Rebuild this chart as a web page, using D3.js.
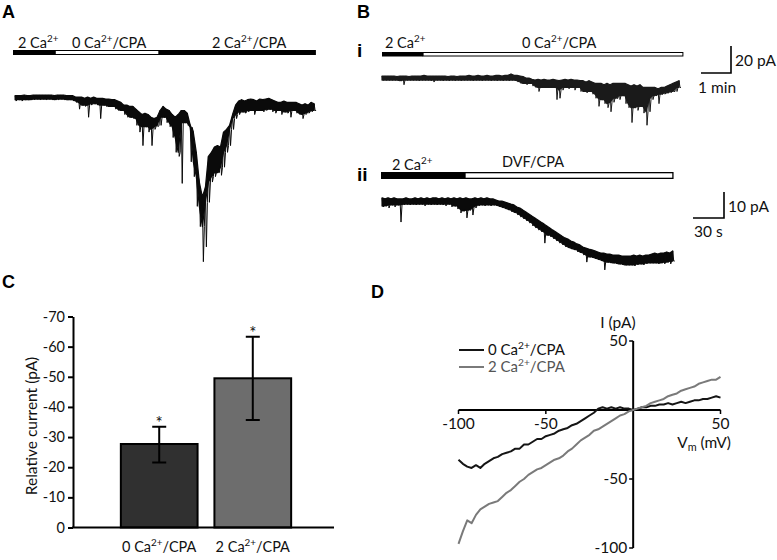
<!DOCTYPE html>
<html><head><meta charset="utf-8">
<script src="https://cdn.jsdelivr.net/npm/d3@7"></script>
<style>body{margin:0;background:#fff}svg{display:block}</style>
</head><body>
<svg id="fig" width="777" height="560"></svg>
<script>
// ================= DATA =================
// Panel A: solution protocol (min) and current trace envelope (pA), one sample every 0.1 min from t = 0.07 min
const protocolA = [
  {label: "2 Ca^{2+}", start: 0, end: 1.4, kind: "on"},
  {label: "0 Ca^{2+}/CPA", start: 1.4, end: 4.83, kind: "off"},
  {label: "2 Ca^{2+}/CPA", start: 4.83, end: 10.03, kind: "on"}
];
const traceA_t0 = 0.07, traceA_dt = 0.1;
const traceA_hi = [
  1,1,1,1.5,1,1,1.5,1.5,1.5,1.5,
  1.5,1.5,1.5,1,1.5,1.5,1.5,1,1,1,
  0,0,0,-1,0,-1,0,-1,-1,-1,
  -1.5,-1.5,-2,-2,-3,-4,-6,-6,-7,-7,
  -9,-11,-13,-12,-13,-15,-16,-15,-10,-7,
  -9,-10,-13,-15,-13,-10,-10,-12,-21,-26,
  -41,-63,-74,-67,-44,-41,-37,-36,-37,-26,
  -24,-21,-13,-6,-3,-2,-3,-2,-1.5,-2,
  -3,-1.5,-2,-1.5,-1,-2,-3,-4,-4,-3,
  -4,-4,-4,-4,-5,-6,-5,-6,-4,-5];
const traceA_lo = [
  -3,-2,-3,-2,-2,-2,-2,-1.5,-2,-1.5,
  -2,-1.5,-2,-2,-2,-1.5,-2,-2,-2,-3,
  -4,-9,-6,-7,-15,-6,-5,-6,-16,-6,
  -7,-7,-7,-9,-10,-10,-13,-15,-15,-16,
  -21,-26,-36,-22,-26,-36,-24,-22,-21,-15,
  -19,-22,-30,-41,-44,-64,-19,-21,-48,-59,
  -81,-96,-122,-111,-78,-63,-59,-56,-58,-52,
  -41,-36,-24,-16,-13,-11,-12,-11,-10,-13,
  -10,-10,-11,-10,-9,-11,-12,-10,-13,-11,
  -12,-15,-10,-12,-13,-16,-13,-12,-11,-10];

// Panel B(i): protocol (min) and trace (pA), sample every 0.1 min from t = 0
const protocolBi = [
  {label: "2 Ca^{2+}", start: 0, end: 1.37, kind: "on"},
  {label: "0 Ca^{2+}/CPA", start: 1.37, end: 10.03, kind: "off"}
];
const traceBi_t0 = 0, traceBi_dt = 0.1;
const traceBi_hi = [
  1.5,1.5,1.5,1.5,1.5,1,1.5,1.5,1.5,1,
  1.5,1.5,1.5,1.5,2,1.5,1.5,1.5,1.5,1.5,
  1.5,1.5,1,1.5,1.5,1,1.5,1.5,1.5,2,
  1.5,1.5,2,1.5,1.5,2,1.5,1.5,2,2,
  1.5,2,2,3,2,2,1.5,1,0,0,
  -1,-1.5,-1,-1.5,-1,-1.5,-1.5,-1,-1.5,-2,
  -1.5,-1,-1.5,-1,-1.5,-1.5,-2,-2,-3,-2,
  -3,-4,-4,-4,-5,-4,-5,-4,-4,-4,
  -4,-4,-5,-6,-5,-6,-5,-7,-7,-7,
  -7,-7,-8,-7,-7,-6,-5,-4,-3,-2];
const traceBi_lo = [
  -1.5,-1.5,-1.5,-1.5,-1.5,-2,-2,-5,-1.5,-1.5,
  -1.5,-1.5,-2,-1.5,-1.5,-1.5,-2,-3,-1.5,-1.5,
  -2,-1.5,-2,-1.5,-2,-1.5,-2,-1.5,-1.5,-1.5,
  -2,-1.5,-1.5,-2,-1.5,-1.5,-2,-1.5,-2,-1.5,
  -2,-1.5,-2,-1.5,-2,-3,-4,-4,-5,-4,
  -6,-7,-10,-7,-7,-7,-7,-7,-16,-15,
  -9,-7,-8,-7,-9,-7,-10,-10,-11,-10,
  -12,-15,-21,-16,-19,-22,-25,-18,-15,-16,
  -13,-19,-22,-33,-22,-24,-21,-26,-35,-25,
  -16,-13,-19,-12,-12,-11,-11,-10,-10,-7];

// Panel B(ii): protocol (s) and trace (pA), sample every 2.9 s from t = 1 s
const protocolBii = [
  {label: "2 Ca^{2+}", start: 0, end: 81.3, kind: "on"},
  {label: "DVF/CPA", start: 81.3, end: 282.5, kind: "off"}
];
const traceBii_t0 = 1, traceBii_dt = 2.9;
const traceBii_hi = [
  1.2,0.8,1.2,0.8,1.2,0.8,0.8,0.8,1.2,0.8,
  0.8,1.2,0.8,1.2,0.8,1.2,0.8,1.2,1.2,0.8,
  1.2,0.8,1.2,0.8,1.2,0.8,1.2,0.8,1.2,0.8,
  0.8,1.2,0.8,1.2,0.8,1.2,0.8,0.8,0.4,0,
  0,-0.4,-0.8,-1.2,-1.5,-2.3,-2.7,-3.5,-4.2,-5,
  -5.8,-6.5,-7.3,-8.1,-8.8,-9.6,-10.4,-11.2,-11.9,-12.7,
  -13.5,-14.2,-14.6,-15.4,-15.8,-16.5,-16.9,-17.7,-18.1,-18.5,
  -18.8,-19.2,-19.6,-20,-20,-20.4,-20.4,-20.8,-20.8,-20.8,
  -21.2,-21.2,-21.2,-21.2,-20.8,-21.2,-20.8,-21.2,-20.8,-20.8,
  -20.4,-20,-20.4,-20,-20,-19.6,-20,-19.2];
const traceBii_lo = [
  -2.3,-1.9,-2.7,-1.5,-2.3,-1.5,-8.1,-1.5,-1.2,-1.5,
  -1.2,-1.5,-1.2,-1.2,-1.9,-1.2,-1.5,-1.2,-1.5,-1.2,
  -1.5,-1.9,-1.2,-2.3,-1.9,-3.1,-4.6,-3.8,-6.5,-3.5,
  -5.4,-2.7,-1.9,-1.5,-1.9,-1.5,-1.9,-1.5,-1.9,-2.3,
  -2.7,-3.1,-3.5,-4.2,-4.6,-5.4,-6.2,-6.9,-7.7,-8.5,
  -9.6,-10.4,-11.2,-11.9,-16.2,-13.1,-13.8,-14.6,-15.4,-16.2,
  -16.9,-17.7,-18.1,-18.5,-18.8,-19.6,-20,-20.8,-23.5,-21.5,
  -21.9,-22.3,-22.7,-23.1,-26.5,-23.5,-23.8,-23.8,-24.2,-24.2,
  -24.6,-24.6,-24.6,-24.6,-25,-24.6,-24.2,-24.6,-24.2,-23.8,
  -23.8,-23.8,-24.2,-23.8,-24.2,-23.5,-24.2,-23.1];

// Scale bars
const scaleBi = {pA: 20, time: 1, pALabel: "20 pA", timeLabel: "1 min"};
const scaleBii = {pA: 10, time: 30, pALabel: "10 pA", timeLabel: "30 s"};

// Panel C: bar chart
const catsC = ["0 Ca^{2+}/CPA", "2 Ca^{2+}/CPA"];
const meanC = [-27.7, -49.5];
const errLoC = [-21.6, -35.7];
const errHiC = [-33.4, -63.3];
const yTicksC = [0, -10, -20, -30, -40, -50, -60, -70];

// Panel D: I-V relationships
const vmD = [-100,-97.5,-95,-92.5,-90,-87.5,-85,-82.5,-80,-77.5,-75,-72.5,-70,-67.5,-65,-62.5,-60,-57.5,-55,-52.5,
  -50,-47.5,-45,-42.5,-40,-37.5,-35,-32.5,-30,-27.5,-25,-22.5,-20,-17.5,-15,-12.5,-10,-7.5,-5,-2.5,
  0,2.5,5,7.5,10,12.5,15,17.5,20,22.5,25,27.5,30,32.5,35,37.5,40,42.5,45,47.5,50];
const iv0Ca = [-36,-39,-41,-42,-40,-42,-39,-37,-35,-34,-32,-31,-30,-28,-28,-25,-25,-23,-21,-21,
  -19,-18,-17,-15,-14,-13,-11,-10,-8,-6,-4,-2,1,2,1,2,1,2,1,1,
  0,1,2,2,3,3,4,4,5,4,5,6,5,6,7,7,8,8,9,10,9];
const iv2Ca = [-97,-88,-80,-82,-76,-72,-70,-68,-67,-66,-63,-60,-58,-55,-52,-50,-47,-45,-43,-42,
  -40,-38,-36,-35,-33,-30,-28,-25,-22,-20,-18,-15,-14,-12,-10,-8,-6,-4,-3,-1,
  0,1,2,3,5,6,7,8,10,11,12,14,15,16,17,19,20,21,22,22,24];
const seriesD = ["0 Ca^{2+}/CPA", "2 Ca^{2+}/CPA"];
const xTicksD = [-100, -50, 50];
const yTicksD = [50, -50, -100];

// ================= STYLE / LAYOUT =================
const FONT = "Lato, 'Open Sans', sans-serif";
const BOLD = "'Liberation Sans', Arial, sans-serif";
const barFillC = ["#303030", "#6d6d6d"];
const lineColD = ["#151515", "#7a7a7a"];
const svg = d3.select("#fig");

function rich(sel, str, fs) {
  const parts = str.split(/(\^\{[^}]*\}|_\{[^}]*\})/).filter(p => p);
  let off = 0;
  parts.forEach(p => {
    let target = 0, size = fs, txt = p;
    if (p[0] === "^") { target = -0.38 * fs; size = 0.68 * fs; txt = p.slice(2, -1); }
    else if (p[0] === "_") { target = 0.22 * fs; size = 0.7 * fs; txt = p.slice(2, -1); }
    sel.append("tspan").attr("dy", target - off).attr("font-size", size).text(txt);
    off = target;
  });
  return sel;
}
function label(x, y, str, fs, opts = {}) {
  const t = svg.append("text").attr("x", x).attr("y", y)
    .attr("font-family", opts.family || FONT).attr("font-size", fs)
    .attr("fill", opts.fill || "#111")
    .attr("font-weight", opts.weight || "normal")
    .attr("text-anchor", opts.anchor || "start");
  if (opts.rotate) t.attr("transform", `rotate(${opts.rotate},${x},${y})`);
  return rich(t, str, fs);
}
function panelLetter(x, y, s) { label(x, y, s, 18, {family: BOLD, weight: "bold", fill: "#000"}); }

function drawProtocol(x, y0, h, segs, sw) {
  const g = svg.append("g");
  g.selectAll("rect").data(segs).join("rect")
    .attr("x", d => x(d.start)).attr("width", d => x(d.end) - x(d.start))
    .attr("y", d => d.kind === "on" ? y0 : y0 + sw / 2)
    .attr("height", d => d.kind === "on" ? h : h - sw)
    .attr("fill", d => d.kind === "on" ? "#000" : "#fff")
    .attr("stroke", d => d.kind === "on" ? "none" : "#000")
    .attr("stroke-width", sw);
  return g;
}
// Noisy recording: a solid band for the noise envelope, with single-sample spikes drawn as thin strokes
function drawTrace(x, y, t0, dt, hi, lo, color) {
  const pts = hi.map((h, i) => {
    const core = Math.max(lo[Math.max(i - 1, 0)], lo[i], lo[Math.min(i + 1, lo.length - 1)]);
    return {t: t0 + i * dt, hi: h, lo: lo[i], core: Math.min(core, h - 1.5)};
  });
  const g = svg.append("g");
  g.append("path").datum(pts)
    .attr("d", d3.area().x(d => x(d.t)).y0(d => y(d.hi)).y1(d => y(d.core)))
    .attr("fill", color).attr("stroke", color).attr("stroke-width", 1.2).attr("stroke-linejoin", "round");
  const zz = [];
  pts.forEach(d => { zz.push([x(d.t), y(d.hi)]); zz.push([x(d.t + dt / 3), y(d.lo)]); zz.push([x(d.t + 2 * dt / 3), y(d.core)]); });
  g.append("path").attr("d", d3.line()(zz))
    .attr("fill", "none").attr("stroke", color).attr("stroke-width", 1);
}
function scaleBar(cx, cy, x, y, sb) {
  const w = x(sb.time) - x(0), h = y(-sb.pA) - y(0);
  svg.append("path").attr("d", `M${cx - w},${cy}H${cx}V${cy - h}`)
    .attr("fill", "none").attr("stroke", "#000").attr("stroke-width", 1.6);
}

// ================= PANEL A =================
panelLetter(2, 18, "A");
const xA = d3.scaleLinear().domain([0, 10]).range([13, 315]);
const yA = d3.scaleLinear().domain([0, -125]).range([97, 265.75]);
drawProtocol(xA, 50, 5, protocolA, 1);
label(18, 48, protocolA[0].label, 14.5);
label(72, 48, protocolA[1].label, 14.5);
label(212, 48, protocolA[2].label, 14.5);
drawTrace(xA, yA, traceA_t0, traceA_dt, traceA_hi, traceA_lo, "#0a0a0a");

// ================= PANEL B =================
panelLetter(357, 18, "B");
label(357, 57, "i", 19, {family: BOLD, weight: "bold", fill: "#000"});
const xBi = d3.scaleLinear().domain([0, 10]).range([382, 682]);
const yBi = d3.scaleLinear().domain([0, -40]).range([78, 132]);
drawProtocol(xBi, 52, 4.5, protocolBi, 1);
label(385, 48, protocolBi[0].label, 14.5);
label(522, 48, protocolBi[1].label, 14.5);
drawTrace(xBi, yBi, traceBi_t0, traceBi_dt, traceBi_hi, traceBi_lo, "#1a1a1a");
scaleBar(731, 73, xBi, yBi, scaleBi);
label(735, 66, scaleBi.pALabel, 15.5);
label(698, 93, scaleBi.timeLabel, 15.5);

label(357, 181, "ii", 19, {family: BOLD, weight: "bold", fill: "#000"});
const xBii = d3.scaleLinear().domain([0, 300]).range([381, 691]);
const yBii = d3.scaleLinear().domain([0, -25]).range([201, 266]);
drawProtocol(xBii, 172, 7, protocolBii, 1.3);
label(392, 170, protocolBii[0].label, 14.5);
label(502, 167, protocolBii[1].label, 14.5);
drawTrace(xBii, yBii, traceBii_t0, traceBii_dt, traceBii_hi, traceBii_lo, "#0a0a0a");
scaleBar(724, 218, xBii, yBii, scaleBii);
label(728, 212, scaleBii.pALabel, 15.5);
label(694, 237, scaleBii.timeLabel, 15.5);

// ================= PANEL C =================
panelLetter(2, 288, "C");
const yC = d3.scaleLinear().domain([0, -70]).range([527.5, 316.5]);
const xC = d3.scaleBand().domain(catsC).range([104, 308]).paddingInner(0.18).paddingOuter(0.18);
const gC = svg.append("g");
gC.selectAll("rect.bar").data(catsC).join("rect").attr("class", "bar")
  .attr("x", d => xC(d)).attr("width", xC.bandwidth())
  .attr("y", (d, i) => yC(meanC[i])).attr("height", (d, i) => yC(0) - yC(meanC[i]))
  .attr("fill", (d, i) => barFillC[i]).attr("stroke", "#000").attr("stroke-width", 2);
catsC.forEach((c, i) => {
  const cx = xC(c) + xC.bandwidth() / 2;
  gC.append("path")
    .attr("d", `M${cx},${yC(errLoC[i])}V${yC(errHiC[i])}M${cx - 7},${yC(errLoC[i])}H${cx + 7}M${cx - 7},${yC(errHiC[i])}H${cx + 7}`)
    .attr("stroke", "#000").attr("stroke-width", 2).attr("fill", "none");
  label(cx, yC(errHiC[i]) + 2, "*", 17, {anchor: "middle"});
  label(cx, 552, c, 14.5, {anchor: "middle"});
});
const axC = svg.append("g").attr("transform", `translate(73,0)`)
  .call(d3.axisLeft(yC).tickValues(yTicksC).tickSize(5).tickSizeOuter(0).tickPadding(3).tickFormat(d3.format("d")));
axC.select(".domain").attr("stroke", "#000").attr("stroke-width", 2);
axC.selectAll(".tick line").attr("stroke", "#000").attr("stroke-width", 2);
axC.selectAll(".tick text").attr("font-family", FONT).attr("font-size", 14.5).attr("fill", "#111").text(d => d === 0 ? "0" : String(d));
svg.append("line").attr("x1", 72).attr("x2", 334).attr("y1", yC(0)).attr("y2", yC(0))
  .attr("stroke", "#000").attr("stroke-width", 2);
label(37, 426, "Relative current (pA)", 15.5, {anchor: "middle", rotate: -90});

// ================= PANEL D =================
panelLetter(371, 298, "D");
const xD = d3.scaleLinear().domain([-100, 50]).range([458.5, 720.5]);
const yD = d3.scaleLinear().domain([-100, 50]).range([548, 341]);
const gD = svg.append("g");
gD.append("line").attr("x1", xD(-100)).attr("x2", xD(50)).attr("y1", yD(0)).attr("y2", yD(0))
  .attr("stroke", "#000").attr("stroke-width", 2);
gD.append("line").attr("x1", xD(0)).attr("x2", xD(0)).attr("y1", yD(50)).attr("y2", yD(-100))
  .attr("stroke", "#000").attr("stroke-width", 2);
gD.selectAll("line.xt").data(xTicksD).join("line").attr("class", "xt")
  .attr("x1", d => xD(d)).attr("x2", d => xD(d)).attr("y1", yD(0)).attr("y2", yD(0) + 4)
  .attr("stroke", "#000").attr("stroke-width", 1.5);
gD.selectAll("line.yt").data(yTicksD).join("line").attr("class", "yt")
  .attr("x1", xD(0) - 4).attr("x2", xD(0)).attr("y1", d => yD(d)).attr("y2", d => yD(d))
  .attr("stroke", "#000").attr("stroke-width", 1.5);
xTicksD.forEach(v => label(xD(v), yD(0) + 19, String(v), 15.5, {anchor: "middle"}));
yTicksD.forEach(v => label(xD(0) - 6, yD(v) + 5, String(v), 15.5, {anchor: "end"}));
label(731, 448, "V_{m} (mV)", 15.5, {anchor: "end"});
label(618, 328, "I (pA)", 15.5, {anchor: "middle"});
const lineD = d3.line().x(d => xD(d[0])).y(d => yD(d[1]));
[iv0Ca, iv2Ca].forEach((arr, k) => {
  gD.append("path").datum(vmD.map((v, i) => [v, arr[i]])).attr("d", lineD)
    .attr("fill", "none").attr("stroke", lineColD[k]).attr("stroke-width", 2).attr("stroke-linejoin", "round");
});
seriesD.forEach((s, k) => {
  const ly = 350 + k * 17;
  svg.append("line").attr("x1", 459).attr("x2", 484).attr("y1", ly).attr("y2", ly)
    .attr("stroke", lineColD[k]).attr("stroke-width", 2);
  label(488, ly + 5, s, 15, {fill: k === 0 ? "#111" : "#555"});
});
</script>
</body></html>
